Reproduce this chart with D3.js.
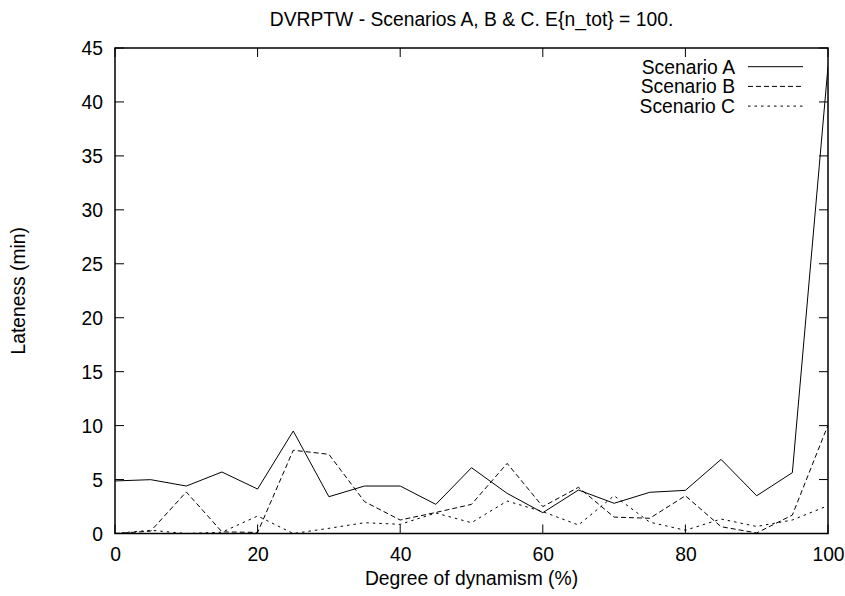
<!DOCTYPE html>
<html>
<head>
<meta charset="utf-8">
<script src="https://cdn.jsdelivr.net/npm/d3@7"></script>
<style>
  html, body { margin: 0; padding: 0; background: #fff; }
  svg { display: block; }
  text { font-family: "Liberation Sans", Arial, Helvetica, sans-serif; fill: #000; }
</style>
</head>
<body>
<svg id="chart" width="845" height="596"></svg>
<script>
const dynamism = [0,5,10,15,20,25,30,35,40,45,50,55,60,65,70,75,80,85,90,95,100];
const scenarioA = [4.87,4.99,4.4,5.7,4.12,9.5,3.41,4.4,4.4,2.7,6.1,3.72,1.93,4.03,2.8,3.82,4.0,6.87,3.5,5.64,43.3];
const scenarioB = [0,0.22,3.85,0.15,0.1,7.72,7.34,2.95,1.25,1.95,2.7,6.5,2.49,4.28,1.52,1.41,3.5,0.63,0.05,1.71,10.05];
const scenarioC = [0,0.3,0,0.12,1.62,0,0.48,1.0,0.85,1.9,1.0,3.01,2.02,0.79,3.5,1.05,0.3,1.34,0.65,1.25,2.58];
const seriesNames = ["Scenario A","Scenario B","Scenario C"];
const xTicks = [0,20,40,60,80,100];
const yTicks = [0,5,10,15,20,25,30,35,40,45];
const titleText = "DVRPTW - Scenarios A, B & C. E{n_tot} = 100.";
const xLabel = "Degree of dynamism (%)";
const yLabel = "Lateness (min)";

const svg = d3.select("#chart");
const L = 115, R = 828, T = 48, B = 533.5;
const fs = 19.3;
const x = d3.scaleLinear().domain([0,100]).range([L,R]);
const y = d3.scaleLinear().domain([0,45]).range([B,T]);

svg.append("rect").attr("width",845).attr("height",596).attr("fill","#fff");

const series = [
  {name: seriesNames[0], values: scenarioA, dash: null},
  {name: seriesNames[1], values: scenarioB, dash: "5,3"},
  {name: seriesNames[2], values: scenarioC, dash: "2.5,4"}
];

const line = d3.line().x((d,i)=>x(dynamism[i])).y(d=>y(d));
svg.append("clipPath").attr("id","clip").append("rect")
  .attr("x",L).attr("y",T).attr("width",R-L).attr("height",B-T);

series.forEach(s => {
  svg.append("path").datum(s.values)
    .attr("d", line)
    .attr("fill","none").attr("stroke","#000").attr("stroke-width",1)
    .attr("stroke-dasharray", s.dash)
    .attr("clip-path","url(#clip)");
});

// inward ticks on all four sides (mirrored)
const tick = 9;
const ax = svg.append("g").attr("stroke","#000").attr("stroke-width",1);
xTicks.forEach(v => {
  ax.append("line").attr("x1",x(v)).attr("x2",x(v)).attr("y1",B).attr("y2",B-tick);
  ax.append("line").attr("x1",x(v)).attr("x2",x(v)).attr("y1",T).attr("y2",T+tick);
});
yTicks.forEach(v => {
  ax.append("line").attr("x1",L).attr("x2",L+tick).attr("y1",y(v)).attr("y2",y(v));
  ax.append("line").attr("x1",R).attr("x2",R-tick).attr("y1",y(v)).attr("y2",y(v));
});
svg.append("rect").attr("x",L).attr("y",T).attr("width",R-L).attr("height",B-T)
  .attr("fill","none").attr("stroke","#000").attr("stroke-width",1.5);

const xAxis = d3.axisBottom(x).tickValues(xTicks).tickSize(0).tickPadding(0);
const gx = svg.append("g").attr("transform",`translate(0,${B})`).call(xAxis);
gx.select(".domain").remove();
gx.selectAll("text").attr("font-size",fs).attr("dy",null).attr("y",27)
  .attr("font-family",'"Liberation Sans", Arial, sans-serif');

const yAxis = d3.axisLeft(y).tickValues(yTicks).tickSize(0).tickPadding(0);
const gy = svg.append("g").call(yAxis);
gy.select(".domain").remove();
gy.selectAll("text").attr("font-size",fs).attr("x",103).attr("dy","0.36em")
  .attr("font-family",'"Liberation Sans", Arial, sans-serif');

svg.append("text").attr("x",(L+R)/2).attr("y",26).attr("text-anchor","middle")
  .attr("font-size",fs).text(titleText);
svg.append("text").attr("x",(L+R)/2).attr("y",585).attr("text-anchor","middle")
  .attr("font-size",fs).text(xLabel);
svg.append("text").attr("transform",`translate(25,${(T+B)/2}) rotate(-90)`)
  .attr("text-anchor","middle").attr("font-size",fs).text(yLabel);

// legend
const lg = svg.append("g");
series.forEach((s,i) => {
  const cy = 66.7 + i*19.7;
  lg.append("text").attr("x",735).attr("y",cy).attr("dy","0.36em")
    .attr("text-anchor","end").attr("font-size",fs).text(s.name);
  lg.append("line").attr("x1",748).attr("x2",803).attr("y1",cy).attr("y2",cy)
    .attr("stroke","#000").attr("stroke-width",1).attr("stroke-dasharray",s.dash);
});
</script>
</body>
</html>
